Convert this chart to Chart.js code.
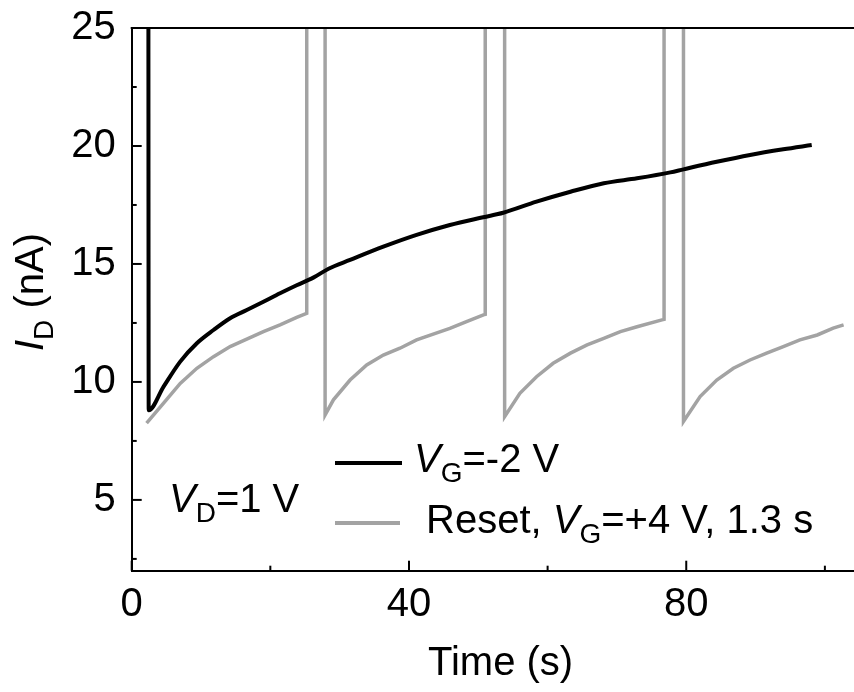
<!DOCTYPE html>
<html>
<head>
<meta charset="utf-8">
<title>Drain current vs time</title>
<script src="https://cdn.jsdelivr.net/npm/chart.js@4.4.1/dist/chart.umd.min.js"></script>
<style>
  html, body { margin: 0; padding: 0; background: #fff; overflow: hidden; }
  canvas { display: block; }
</style>
</head>
<body>
<canvas id="currentChart" width="854" height="692"></canvas>
<script>
// Constant bias, V_G = -2 V (black trace)
const biasTime    = [2.4, 2.45, 4.6, 7.0, 9.4, 11.8, 14.2, 16.6, 19.0, 21.4, 23.8, 26.2, 28.4, 31.5, 36.3, 41.1, 45.9, 50.7, 53.6, 58.4, 63.3, 68.1, 72.9, 77.7, 79.6, 84.4, 89.2, 94.0, 98.1];
const biasCurrent = [30, 8.8, 9.8, 10.86, 11.64, 12.2, 12.7, 13.05, 13.4, 13.76, 14.1, 14.42, 14.8, 15.17, 15.73, 16.23, 16.65, 16.98, 17.17, 17.64, 18.06, 18.42, 18.63, 18.88, 19.01, 19.33, 19.62, 19.86, 20.04];

// Periodic reset pulses, V_G = +4 V for 1.3 s (grey trace); pulses run off the top
const resetTime    = [2.15, 4.6, 7.0, 9.4, 11.8, 14.2, 16.6, 19.0, 21.4, 23.8, 25.25, 25.25, 27.9, 27.9, 29.1, 31.5, 33.9, 36.3, 38.7, 41.1, 43.5, 45.9, 48.3, 50.75, 51.0, 51.0, 53.8, 53.8, 56.0, 58.4, 60.8, 63.3, 65.7, 68.1, 70.5, 72.9, 76.5, 76.8, 76.8, 79.6, 79.6, 82.0, 84.4, 86.8, 89.2, 91.6, 94.0, 96.4, 98.9, 101.2, 102.7];
const resetCurrent = [8.25, 9.1, 9.94, 10.58, 11.07, 11.5, 11.81, 12.13, 12.42, 12.74, 12.91, 30, 30, 8.6, 9.24, 10.08, 10.72, 11.14, 11.43, 11.78, 12.03, 12.27, 12.56, 12.84, 12.86, 30, 30, 8.53, 9.52, 10.22, 10.79, 11.22, 11.57, 11.85, 12.13, 12.34, 12.63, 12.65, 30, 30, 8.32, 9.38, 10.08, 10.58, 10.93, 11.22, 11.5, 11.78, 11.99, 12.28, 12.42];

// Axis ticks
const xMajorTicks = [0, 40, 80];
const xMinorTicks = [20, 60, 100];
const yMajorTicks = [5, 10, 15, 20, 25];
const yMinorTicks = [2.5, 7.5, 12.5, 17.5, 22.5];

const FONT = '"Liberation Sans", Arial, sans-serif';
const GREY = '#a3a3a3';

function toPoints(xs, ys) {
    return xs.map((x, i) => ({ x: x, y: ys[i] }));
}

// Draws a run of text pieces; pieces can be italic or subscript
function drawRich(ctx, x, y, parts, size) {
    let cx = x;
    parts.forEach(p => {
        const s = p.sub ? Math.round(size * 0.7) : size;
        ctx.font = (p.italic ? 'italic ' : '') + s + 'px ' + FONT;
        ctx.fillText(p.t, cx, y + (p.sub ? size * 0.25 : 0));
        cx += ctx.measureText(p.t).width;
    });
    return cx - x;
}

function measureRich(ctx, parts, size) {
    let w = 0;
    parts.forEach(p => {
        const s = p.sub ? Math.round(size * 0.7) : size;
        ctx.font = (p.italic ? 'italic ' : '') + s + 'px ' + FONT;
        w += ctx.measureText(p.t).width;
    });
    return w;
}

// Inward tick marks, top frame line, legend and labels
const decorations = {
    id: 'decorations',
    afterDraw(chart) {
        const ctx = chart.ctx;
        const area = chart.chartArea;
        const xs = chart.scales.x;
        const ys = chart.scales.y;
        ctx.save();
        ctx.strokeStyle = '#000';
        ctx.lineWidth = 2;

        // top frame
        ctx.beginPath();
        ctx.moveTo(area.left - 1, area.top);
        ctx.lineTo(area.right + 2, area.top);
        ctx.stroke();

        // ticks pointing into the plot
        const tick = (vals, len, axis) => {
            vals.forEach(v => {
                ctx.beginPath();
                if (axis === 'x') {
                    const px = xs.getPixelForValue(v);
                    ctx.moveTo(px, area.bottom);
                    ctx.lineTo(px, area.bottom - len);
                } else {
                    const py = ys.getPixelForValue(v);
                    ctx.moveTo(area.left, py);
                    ctx.lineTo(area.left + len, py);
                }
                ctx.stroke();
            });
        };
        tick(xMajorTicks, 10, 'x');
        tick(xMinorTicks, 5, 'x');
        tick(yMajorTicks, 10, 'y');
        tick(yMinorTicks, 5, 'y');

        // legend
        ctx.lineWidth = 4;
        ctx.strokeStyle = '#000';
        ctx.beginPath();
        ctx.moveTo(335, 463);
        ctx.lineTo(402, 463);
        ctx.stroke();
        ctx.strokeStyle = GREY;
        ctx.beginPath();
        ctx.moveTo(335, 523);
        ctx.lineTo(400, 523);
        ctx.stroke();

        ctx.fillStyle = '#000';
        ctx.textBaseline = 'alphabetic';
        ctx.textAlign = 'left';
        drawRich(ctx, 414, 472, [{ t: 'V', italic: true }, { t: 'G', sub: true }, { t: '=-2 V' }], 40);
        drawRich(ctx, 426, 533, [{ t: 'Reset, ' }, { t: 'V', italic: true }, { t: 'G', sub: true }, { t: '=+4 V, 1.3 s' }], 40);

        // drain bias note
        drawRich(ctx, 169, 512, [{ t: 'V', italic: true }, { t: 'D', sub: true }, { t: '=1 V' }], 40);

        // axis titles
        drawRich(ctx, 428, 675, [{ t: 'Time (s)' }], 40);

        const yTitle = [{ t: 'I', italic: true }, { t: 'D', sub: true }, { t: ' (nA)' }];
        const w = measureRich(ctx, yTitle, 40);
        ctx.translate(43, 292 + w / 2);
        ctx.rotate(-Math.PI / 2);
        drawRich(ctx, 0, 0, yTitle, 40);

        ctx.restore();
    }
};

const chart = new Chart(document.getElementById('currentChart'), {
    type: 'scatter',
    data: {
        datasets: [
            {
                label: 'V_G=-2 V',
                data: toPoints(biasTime, biasCurrent),
                showLine: true,
                borderColor: '#000',
                borderWidth: 4,
                pointRadius: 0,
                cubicInterpolationMode: 'monotone'
            },
            {
                label: 'Reset, V_G=+4 V, 1.3 s',
                data: toPoints(resetTime, resetCurrent),
                showLine: true,
                borderColor: GREY,
                borderWidth: 3.5,
                pointRadius: 0,
                tension: 0
            }
        ]
    },
    options: {
        responsive: false,
        animation: false,
        devicePixelRatio: 1,
        layout: { padding: { top: 28, right: 0, left: 0, bottom: 0 } },
        plugins: {
            legend: { display: false },
            tooltip: { enabled: false }
        },
        scales: {
            x: {
                type: 'linear',
                min: 0,
                max: 104.2,
                afterBuildTicks: scale => { scale.ticks = xMajorTicks.map(v => ({ value: v })); },
                afterFit: scale => {
                    scale.height = 121.3;
                    scale.paddingLeft = 0;
                    scale.paddingRight = 0;
                },
                grid: { drawOnChartArea: false, drawTicks: false },
                border: { display: true, color: '#000', width: 2 },
                ticks: {
                    color: '#000',
                    padding: 10,
                    maxRotation: 0,
                    font: { family: FONT, size: 40 }
                }
            },
            y: {
                type: 'linear',
                min: 2,
                max: 25,
                afterBuildTicks: scale => { scale.ticks = yMajorTicks.map(v => ({ value: v })); },
                afterFit: scale => {
                    scale.width = 131.7;
                    scale.paddingTop = 0;
                    scale.paddingBottom = 0;
                },
                grid: { drawOnChartArea: false, drawTicks: false },
                border: { display: true, color: '#000', width: 2 },
                ticks: {
                    color: '#000',
                    padding: 16,
                    font: { family: FONT, size: 40 }
                }
            }
        }
    },
    plugins: [decorations]
});
</script>
</body>
</html>
